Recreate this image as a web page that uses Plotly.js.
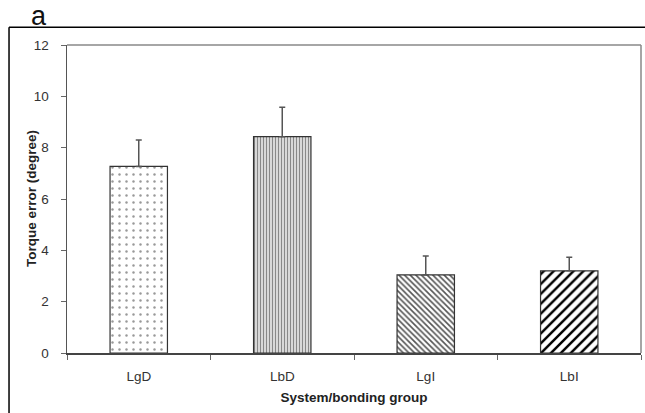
<!DOCTYPE html>
<html>
<head>
<meta charset="utf-8">
<script src="https://cdn.plot.ly/plotly-3.0.1.min.js"></script>
<style>html,body{margin:0;padding:0;background:#fff;}#chart{width:645px;height:413px;}</style>
</head>
<body>
<div id="chart"></div>
<script>
var categories = ["LgD", "LbD", "LgI", "LbI"];
var torqueError = [7.27, 8.43, 3.04, 3.2];
var errorUpper = [1.03, 1.14, 0.74, 0.53];
var yTicks = [0, 2, 4, 6, 8, 10, 12];

var trace = {
  type: "bar",
  x: categories,
  y: torqueError,
  marker: {
    color: "#ffffff",
    line: {color: "#333", width: 1.2},
    pattern: {
      shape: [".", "|", "\\", "/"],
      size: [7, 3, 4, 7],
      solidity: [0.1, 0.55, 0.4, 0.35],
      fgcolor: ["#999", "#888", "#555", "#000"],
      bgcolor: "#ffffff",
      fillmode: "replace"
    }
  },
  error_y: {
    type: "data",
    symmetric: false,
    array: errorUpper,
    arrayminus: [0, 0, 0, 0],
    width: 3,
    thickness: 1.5,
    color: "#555"
  },
  hoverinfo: "none"
};

var font = "Liberation Sans, Arial, sans-serif";
var layout = {
  width: 645,
  height: 413,
  margin: {l: 67, r: 4, t: 45, b: 60},
  paper_bgcolor: "#ffffff",
  plot_bgcolor: "#ffffff",
  showlegend: false,
  bargap: 0.6,
  xaxis: {
    type: "category",
    showline: true,
    linecolor: "#444",
    linewidth: 1.5,
    mirror: false,
    ticks: "outside",
    tickson: "boundaries",
    ticklen: 5,
    tickcolor: "#666",
    ticklabelstandoff: 10,
    tickfont: {family: font, size: 13.5, color: "#333"},
    showgrid: false,
    zeroline: false,
    title: {text: "<b>System/bonding group</b>", font: {family: font, size: 13.5, color: "#222"}, standoff: 10}
  },
  yaxis: {
    range: [0, 12],
    tickvals: yTicks,
    ticktext: yTicks.map(String),
    showline: true,
    linecolor: "#555",
    linewidth: 1.5,
    mirror: false,
    ticks: "outside",
    ticklen: 5,
    tickcolor: "#666",
    ticklabelstandoff: 9,
    tickfont: {family: font, size: 13.5, color: "#333"},
    showgrid: false,
    zeroline: false
  },
  shapes: [
    {type: "line", xref: "paper", yref: "paper", x0: 0, x1: 1, y0: 1, y1: 1, line: {color: "#888", width: 1.5}},
    {type: "line", xref: "paper", yref: "paper", x0: 1, x1: 1, y0: 0, y1: 1, line: {color: "#888", width: 1.5}},
    {type: "line", xref: "paper", yref: "paper", x0: -0.101, x1: -0.101, y0: -0.2, y1: 1.058, line: {color: "#000", width: 1.5}},
    {type: "line", xref: "paper", yref: "paper", x0: -0.101, x1: 1.01, y0: 1.058, y1: 1.058, line: {color: "#000", width: 1.5}}
  ],
  annotations: [
    {text: "a", xref: "paper", yref: "paper", x: -0.066, y: 1.094, xanchor: "left", yanchor: "middle",
     showarrow: false, font: {family: font, size: 27, color: "#111"}},
    {text: "<b>Torque error (degree)</b>", xref: "paper", yref: "paper", x: -0.0627, y: 0.5,
     xanchor: "center", yanchor: "middle", textangle: -90, showarrow: false,
     font: {family: font, size: 13.5, color: "#222"}}
  ]
};

Plotly.newPlot("chart", [trace], layout, {displayModeBar: false, staticPlot: true});
</script>
</body>
</html>
